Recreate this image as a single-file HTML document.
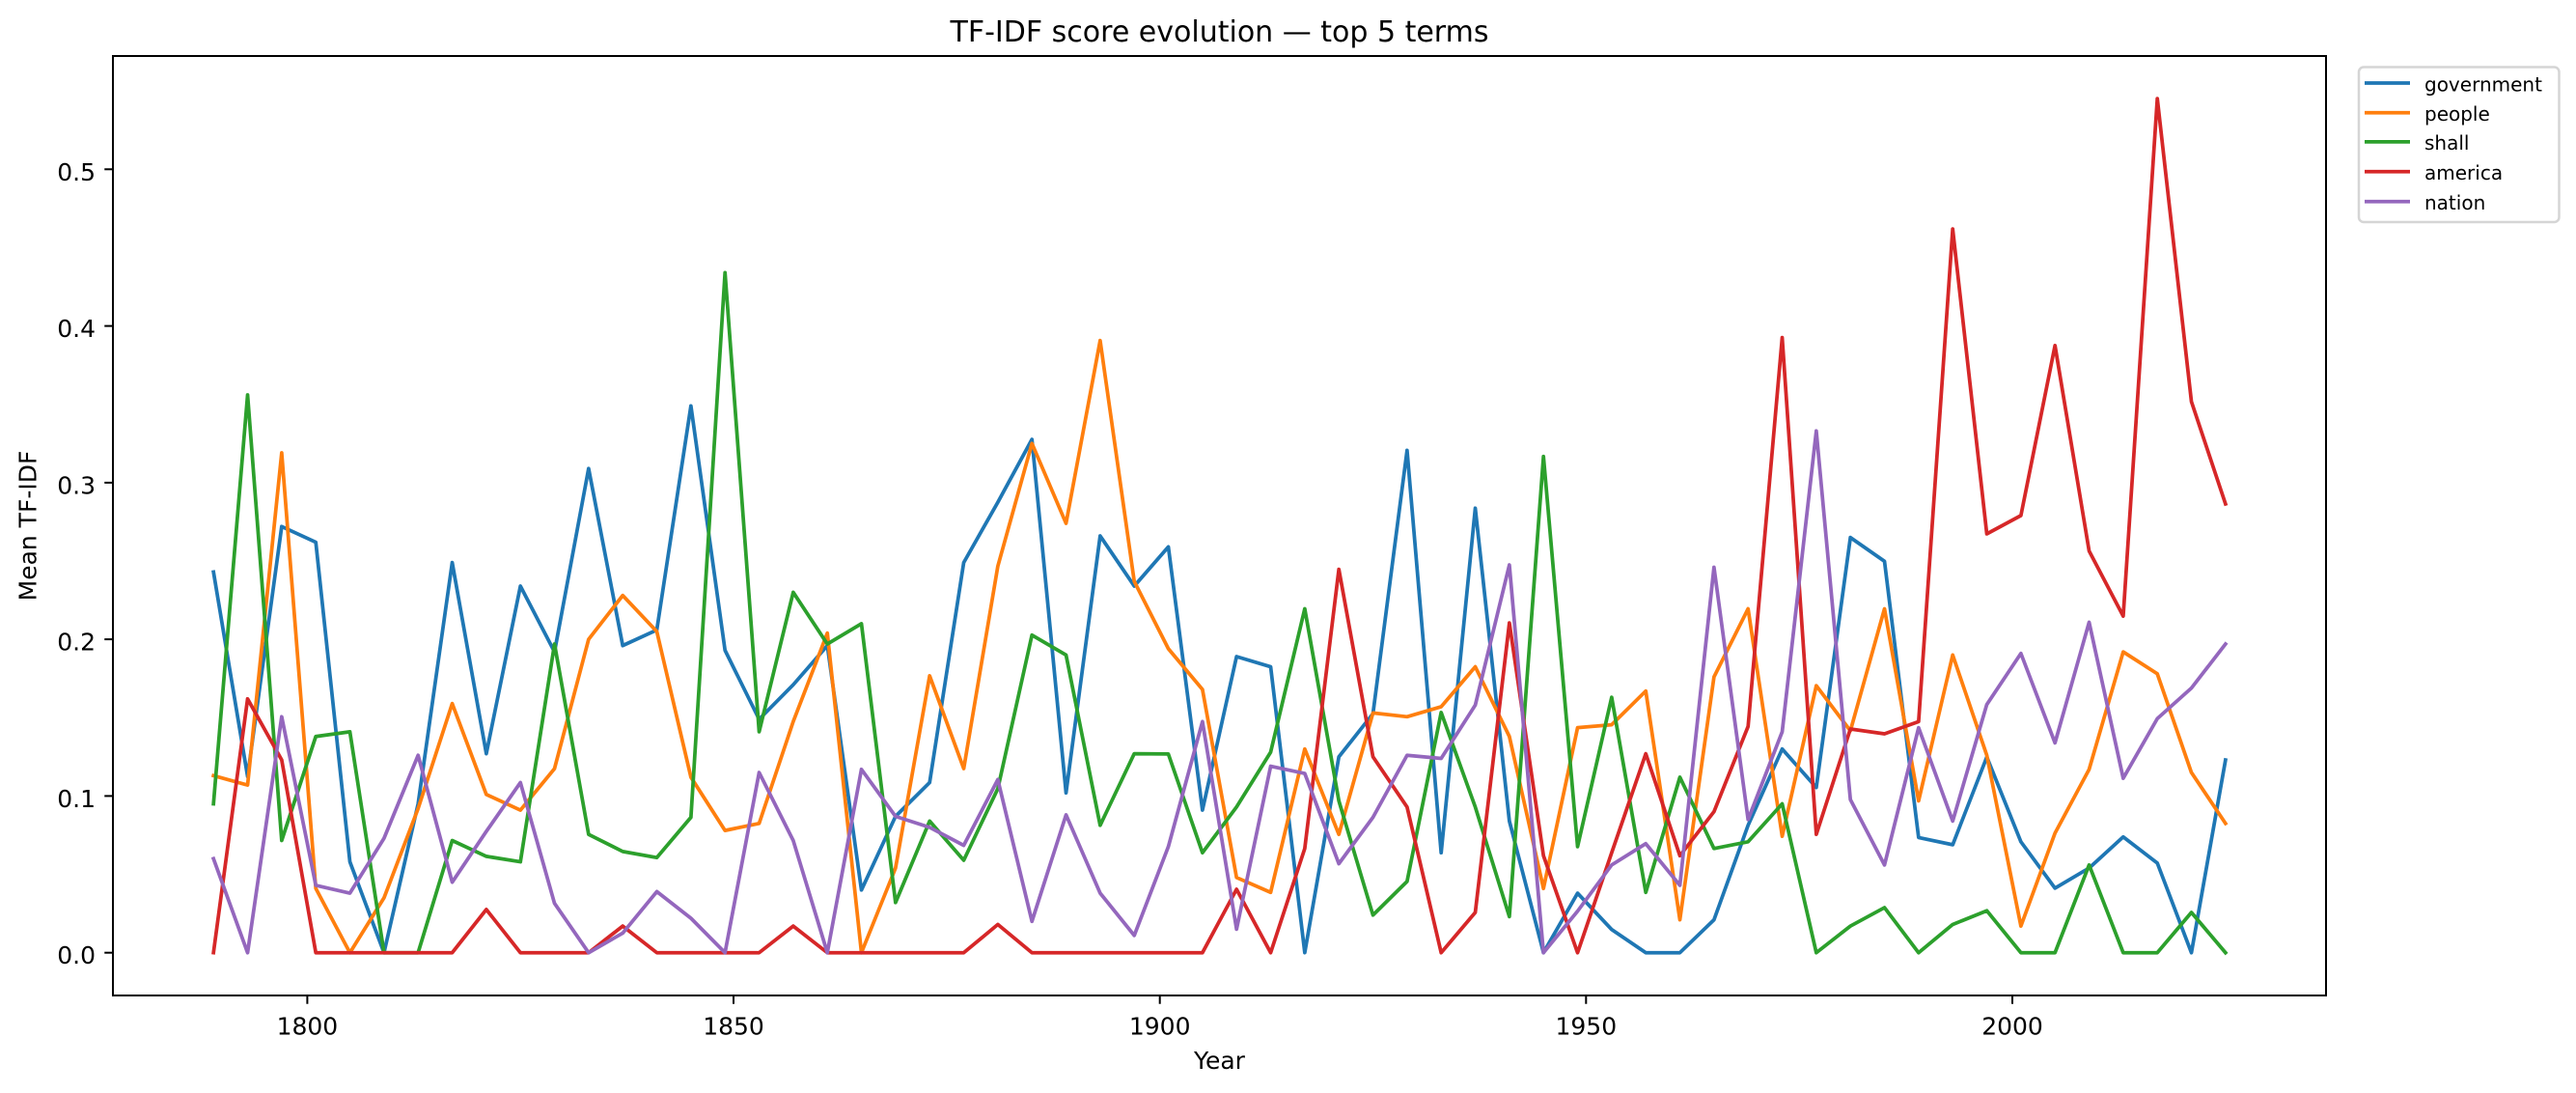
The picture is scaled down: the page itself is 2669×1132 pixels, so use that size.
<!DOCTYPE html>
<html>
<head>
<meta charset="utf-8">
<style>
  html, body { margin: 0; padding: 0; background: #ffffff; }
  svg { display: block; }
  text { font-family: "DejaVu Sans", "Liberation Sans", sans-serif; fill: #000; }
</style>
</head>
<body>
<svg width="2669" height="1132" viewBox="0 0 2669 1132" xmlns="http://www.w3.org/2000/svg">
  <rect x="0" y="0" width="2669" height="1132" fill="#ffffff"/>

  <!-- Title -->
  <text x="1263.5" y="43" font-size="30" text-anchor="middle">TF-IDF score evolution — top 5 terms</text>

  <!-- Series -->
  <g transform="translate(221.2,986.7) scale(35.3333,-1622.8)" fill="none" stroke-width="3.75" stroke-linejoin="round" stroke-linecap="square">
    <polyline vector-effect="non-scaling-stroke" stroke="#1f77b4" points="0,0.243 1,0.1125 2,0.272 3,0.262 4,0.058 5,0 6,0.095 7,0.249 8,0.127 9,0.234 10,0.192 11,0.309 12,0.196 13,0.206 14,0.349 15,0.193 16,0.149 17,0.171 18,0.196 19,0.040 20,0.087 21,0.1086 22,0.249 23,0.2875 24,0.3276 25,0.102 26,0.266 27,0.234 28,0.259 29,0.091 30,0.189 31,0.1825 32,0 33,0.125 34,0.1525 35,0.3206 36,0.0638 37,0.2837 38,0.084 39,0 40,0.038 41,0.0148 42,0 43,0 44,0.021 45,0.0813 46,0.130 47,0.1054 48,0.265 49,0.2498 50,0.0735 51,0.0689 52,0.1249 53,0.0708 54,0.0412 55,0.054 56,0.0739 57,0.0572 58,0 59,0.123"/>
    <polyline vector-effect="non-scaling-stroke" stroke="#ff7f0e" points="0,0.113 1,0.107 2,0.319 3,0.041 4,0 5,0.035 6,0.092 7,0.159 8,0.101 9,0.091 10,0.1175 11,0.200 12,0.228 13,0.205 14,0.112 15,0.078 16,0.0825 17,0.1475 18,0.204 19,0 20,0.054 21,0.1767 22,0.1175 23,0.2467 24,0.325 25,0.274 26,0.3907 27,0.237 28,0.194 29,0.168 30,0.048 31,0.0385 32,0.13 33,0.0755 34,0.153 35,0.1506 36,0.157 37,0.1825 38,0.138 39,0.041 40,0.1436 41,0.1455 42,0.167 43,0.021 44,0.176 45,0.2195 46,0.0743 47,0.1704 48,0.1416 49,0.2195 50,0.0969 51,0.190 52,0.126 53,0.017 54,0.0763 55,0.117 56,0.192 57,0.178 58,0.115 59,0.0825"/>
    <polyline vector-effect="non-scaling-stroke" stroke="#2ca02c" points="0,0.095 1,0.356 2,0.0716 3,0.138 4,0.141 5,0 6,0 7,0.0716 8,0.0615 9,0.058 10,0.197 11,0.0755 12,0.0646 13,0.0607 14,0.0864 15,0.434 16,0.141 17,0.23 18,0.197 19,0.21 20,0.032 21,0.084 22,0.059 23,0.1047 24,0.2027 25,0.190 26,0.0813 27,0.127 28,0.1268 29,0.0638 30,0.093 31,0.128 32,0.2195 33,0.0969 34,0.024 35,0.0455 36,0.1533 37,0.093 38,0.023 39,0.3167 40,0.0677 41,0.163 42,0.0385 43,0.112 44,0.0665 45,0.0708 46,0.095 47,0 48,0.017 49,0.0288 50,0 51,0.018 52,0.0268 53,0 54,0 55,0.056 56,0 57,0 58,0.0257 59,0"/>
    <polyline vector-effect="non-scaling-stroke" stroke="#d62728" points="0,0 1,0.162 2,0.123 3,0 4,0 5,0 6,0 7,0 8,0.0276 9,0 10,0 11,0 12,0.017 13,0 14,0 15,0 16,0 17,0.017 18,0 19,0 20,0 21,0 22,0 23,0.018 24,0 25,0 26,0 27,0 28,0 29,0 30,0.0405 31,0 32,0.0665 33,0.2447 34,0.125 35,0.093 36,0 37,0.0257 38,0.2105 39,0.0619 40,0 41,0.0638 42,0.127 43,0.0619 44,0.090 45,0.1444 46,0.3926 47,0.0755 48,0.1428 49,0.1397 50,0.1475 51,0.4619 52,0.2673 53,0.279 54,0.3875 55,0.2564 56,0.2148 57,0.5451 58,0.3517 59,0.2864"/>
    <polyline vector-effect="non-scaling-stroke" stroke="#9467bd" points="0,0.06 1,0 2,0.1506 3,0.043 4,0.038 5,0.073 6,0.126 7,0.045 8,0.0774 9,0.1086 10,0.0315 11,0 12,0.0125 13,0.039 14,0.022 15,0 16,0.115 17,0.0716 18,0 19,0.117 20,0.087 21,0.080 22,0.0685 23,0.1105 24,0.020 25,0.088 26,0.038 27,0.011 28,0.0677 29,0.1475 30,0.015 31,0.119 32,0.1144 33,0.0568 34,0.0864 35,0.126 36,0.124 37,0.158 38,0.2475 39,0 40,0.0265 41,0.056 42,0.0696 43,0.043 44,0.246 45,0.085 46,0.141 47,0.333 48,0.0977 49,0.056 50,0.1436 51,0.084 52,0.1584 53,0.191 54,0.1339 55,0.2109 56,0.1113 57,0.1494 58,0.1689 59,0.197"/>
  </g>

  <!-- Axes frame -->
  <rect x="117" y="58" width="2293" height="973" fill="none" stroke="#000" stroke-width="2"/>

  <!-- Y ticks -->
  <g stroke="#000" stroke-width="2">
    <line x1="108.25" y1="986.7" x2="117" y2="986.7"/>
    <line x1="108.25" y1="824.4" x2="117" y2="824.4"/>
    <line x1="108.25" y1="662.1" x2="117" y2="662.1"/>
    <line x1="108.25" y1="499.9" x2="117" y2="499.9"/>
    <line x1="108.25" y1="337.6" x2="117" y2="337.6"/>
    <line x1="108.25" y1="175.3" x2="117" y2="175.3"/>
  </g>
  <g font-size="25" text-anchor="end">
    <text x="99" y="998.2">0.0</text>
    <text x="99" y="835.9">0.1</text>
    <text x="99" y="673.6">0.2</text>
    <text x="99" y="511.4">0.3</text>
    <text x="99" y="349.1">0.4</text>
    <text x="99" y="186.8">0.5</text>
  </g>

  <!-- X ticks -->
  <g stroke="#000" stroke-width="2">
    <line x1="318.4" y1="1031" x2="318.4" y2="1039.75"/>
    <line x1="760.0" y1="1031" x2="760.0" y2="1039.75"/>
    <line x1="1201.7" y1="1031" x2="1201.7" y2="1039.75"/>
    <line x1="1643.3" y1="1031" x2="1643.3" y2="1039.75"/>
    <line x1="2085.0" y1="1031" x2="2085.0" y2="1039.75"/>
  </g>
  <g font-size="25" text-anchor="middle">
    <text x="318.4" y="1071.7">1800</text>
    <text x="760.0" y="1071.7">1850</text>
    <text x="1201.7" y="1071.7">1900</text>
    <text x="1643.3" y="1071.7">1950</text>
    <text x="2085.0" y="1071.7">2000</text>
  </g>

  <!-- Axis labels -->
  <text x="1263.5" y="1107" font-size="25" text-anchor="middle">Year</text>
  <text x="0" y="0" font-size="25" text-anchor="middle" transform="translate(37.5,544.5) rotate(-90)">Mean TF-IDF</text>

  <!-- Legend -->
  <rect x="2444" y="69.5" width="207.5" height="160.5" rx="5" ry="5" fill="#ffffff" fill-opacity="0.8" stroke="#d5d5d5" stroke-width="2.5"/>
  <g stroke-width="3.75" stroke-linecap="butt">
    <line x1="2450" y1="86" x2="2497" y2="86" stroke="#1f77b4"/>
    <line x1="2450" y1="116.7" x2="2497" y2="116.7" stroke="#ff7f0e"/>
    <line x1="2450" y1="146.9" x2="2497" y2="146.9" stroke="#2ca02c"/>
    <line x1="2450" y1="177.7" x2="2497" y2="177.7" stroke="#d62728"/>
    <line x1="2450" y1="208.7" x2="2497" y2="208.7" stroke="#9467bd"/>
  </g>
  <g font-size="20">
    <text x="2512" y="94.3">government</text>
    <text x="2512" y="125">people</text>
    <text x="2512" y="155.2">shall</text>
    <text x="2512" y="186">america</text>
    <text x="2512" y="217">nation</text>
  </g>
</svg>
</body>
</html>
